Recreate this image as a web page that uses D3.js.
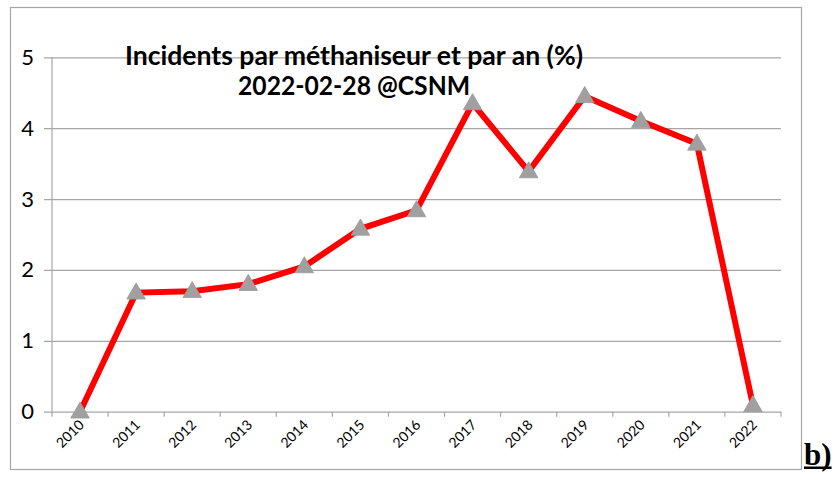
<!DOCTYPE html>
<html><head><meta charset="utf-8">
<script src="https://cdn.jsdelivr.net/npm/d3@7"></script>
<style>html,body{margin:0;padding:0;background:#fff;}svg{display:block;}</style>
</head><body>
<svg id="chart" width="836" height="481"></svg>
<script>
const years = ["2010","2011","2012","2013","2014","2015","2016","2017","2018","2019","2020","2021","2022"];
const incidents = [0, 1.68, 1.70, 1.80, 2.05, 2.58, 2.84, 4.35, 3.39, 4.45, 4.10, 3.78, 0.09];
const yTicks = [0, 1, 2, 3, 4, 5];
const titleLines = ["Incidents par méthaniseur et par an (%)", "2022-02-28 @CSNM"];
const panelLabel = "b)";

(function () {
const svg = d3.select("#chart");
const pLeft = 52, pRight = 781, pTop = 57.3, pBottom = 411.7;
const grey = "#a6a6a6";
const sans = "Lato, 'Open Sans', sans-serif";

svg.append("rect").attr("x", 10.5).attr("y", 7.5).attr("width", 791).attr("height", 462)
  .attr("fill", "#fff").attr("stroke", grey).attr("stroke-width", 1.2);

const x = d3.scaleBand().domain(years).range([pLeft, pRight]).padding(0);
const y = d3.scaleLinear().domain([0, 5]).range([pBottom, pTop]);

// gridlines + y axis
const yAxis = d3.axisLeft(y).tickValues(yTicks).tickSize(-(pRight - pLeft)).tickPadding(18).tickFormat(d3.format("d"));
const gy = svg.append("g").attr("transform", `translate(${pLeft},0)`).call(yAxis);
gy.select(".domain").remove();
gy.selectAll(".tick line").attr("stroke", grey).attr("x1", -8).attr("stroke-width", 1.2);
gy.selectAll(".tick text").attr("font-family", sans).attr("font-size", 22).attr("fill", "#000");

// vertical axis line
svg.append("line").attr("x1", pLeft).attr("x2", pLeft).attr("y1", pTop).attr("y2", pBottom)
  .attr("stroke", grey).attr("stroke-width", 1.2);

// x axis ticks at boundaries
const bounds = years.map(d => x(d)).concat([pRight]);
svg.append("g").selectAll("line").data(bounds).join("line")
  .attr("x1", d => d).attr("x2", d => d).attr("y1", pBottom).attr("y2", pBottom + 5)
  .attr("stroke", grey).attr("stroke-width", 1.2);

// x labels
svg.append("g").selectAll("text").data(years).join("text")
  .attr("transform", d => `translate(${x(d) + x.bandwidth() / 2 + 5},${pBottom + 14}) rotate(-45)`)
  .attr("text-anchor", "end")
  .attr("font-family", sans).attr("font-size", 14).attr("fill", "#000")
  .text(d => d);

// title
const title = svg.append("g");
const t1 = title.append("text").attr("x", 354).attr("y", 65).attr("text-anchor", "middle")
  .attr("font-family", sans).attr("font-weight", "bold").attr("font-size", 21)
  .attr("fill", "#000").text(titleLines[0]);
const fs = 21 * 458 / t1.node().getComputedTextLength();
t1.attr("font-size", fs);
const t2 = title.append("text").attr("x", 354).attr("y", 95).attr("text-anchor", "middle")
  .attr("font-family", sans).attr("font-weight", "bold").attr("font-size", fs)
  .attr("fill", "#000").text(titleLines[1]);
const w2 = t2.node().getComputedTextLength();
t2.attr("textLength", 232).attr("lengthAdjust", "spacingAndGlyphs");

// line
const pts = years.map((d, i) => [x(d) + x.bandwidth() / 2, y(incidents[i])]);
svg.append("path").datum(pts).attr("d", d3.line())
  .attr("fill", "none").attr("stroke", "#ff0000").attr("stroke-width", 6).attr("stroke-linejoin", "miter");

// markers
const tri = d3.symbol().type(d3.symbolTriangle).size(150);
svg.append("g").selectAll("path").data(pts).join("path")
  .attr("transform", d => `translate(${d[0]},${d[1] + 1})`)
  .attr("d", tri).attr("fill", "#a0a0a0").attr("stroke", "#9a9a9a").attr("stroke-width", 0.8);

// panel label
const pl = svg.append("text").attr("x", 804).attr("y", 465)
  .attr("font-family", "'Liberation Serif', 'Times New Roman', serif").attr("font-weight", "bold")
  .attr("font-size", 31).attr("fill", "#000").text(panelLabel);
const plw = pl.node().getComputedTextLength();
svg.append("rect").attr("x", 804).attr("y", 466.5).attr("width", plw).attr("height", 2.5).attr("fill", "#000");
})();
</script>
</body></html>
